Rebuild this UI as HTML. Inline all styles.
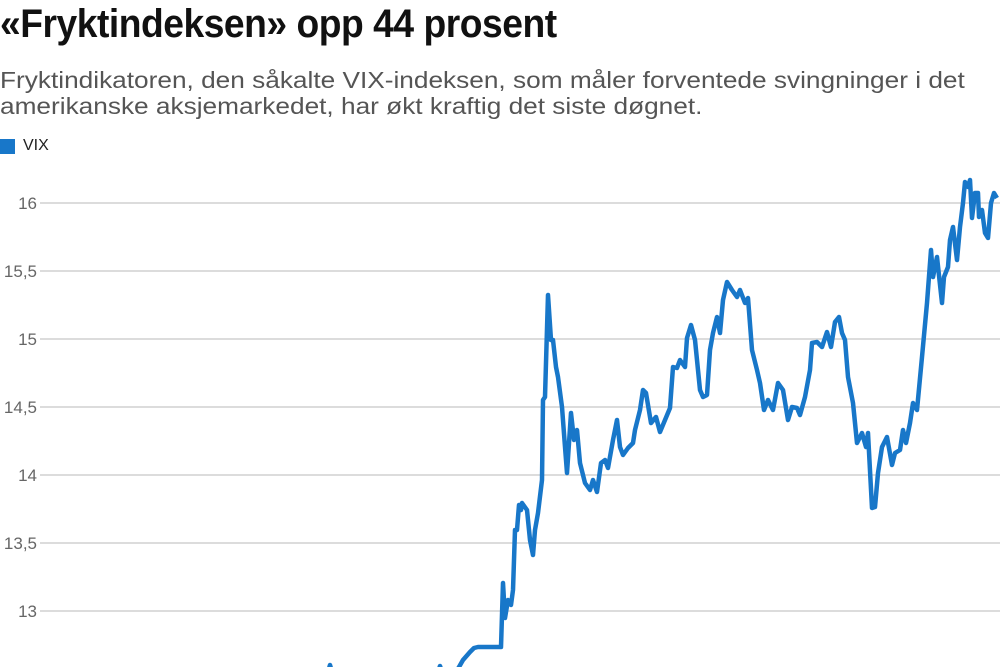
<!DOCTYPE html>
<html><head><meta charset="utf-8"><style>
body{margin:0;width:1000px;height:667px;overflow:hidden;background:#fff;font-family:"Liberation Sans",sans-serif;position:relative}
.t{position:absolute;left:0;top:2px;font-weight:bold;font-size:40px;color:#111;transform:scaleX(0.93);transform-origin:0 0;white-space:nowrap;letter-spacing:-0.5px}
.s{position:absolute;left:0;top:67px;font-size:23px;line-height:26px;color:#555;white-space:nowrap;transform:scaleX(1.14);transform-origin:0 0}
.lg{position:absolute;left:0;top:139px;width:15px;height:15px;background:#1877c9}
.lt{position:absolute;left:23px;top:137px;font-size:16px;color:#222}
</style></head><body>
<div class="t">«Fryktindeksen» opp 44 prosent</div>
<div class="s">Fryktindikatoren, den såkalte VIX-indeksen, som måler forventede svingninger i det<br>amerikanske aksjemarkedet, har økt kraftig det siste døgnet.</div>
<div class="lg"></div><div class="lt">VIX</div>
<svg width="1000" height="667" style="position:absolute;left:0;top:0">
<g stroke="#dcdcdc" stroke-width="2">
<line x1="40" x2="1000" y1="203" y2="203"/><line x1="40" x2="1000" y1="271" y2="271"/>
<line x1="40" x2="1000" y1="339" y2="339"/><line x1="40" x2="1000" y1="407" y2="407"/>
<line x1="40" x2="1000" y1="475" y2="475"/><line x1="40" x2="1000" y1="543" y2="543"/>
<line x1="40" x2="1000" y1="611" y2="611"/></g>
<g font-family="Liberation Sans" font-size="17" fill="#666" text-anchor="end">
<text x="37" y="209">16</text><text x="37" y="277">15,5</text><text x="37" y="345">15</text>
<text x="37" y="413">14,5</text><text x="37" y="481">14</text><text x="37" y="549">13,5</text><text x="37" y="617">13</text></g>
<polyline fill="none" stroke="#1877c9" stroke-width="4.5" stroke-linejoin="round" points="328,672 330,665 332,672 438,672 440,666 442,672 456,672 459,667 463,660 470,652 474,648 478,647 501,647 503,583 505,618 508,600 511,605 513,590 515,530 517,530 519,505 521,510 522,503 527,510 530,540 533,555 535,530 538,513 542,480 543,400 545,397 548,295 551,340 553,340 556,367 558,377 562,407 565,447 567,473 571,413 574,440 577,430 580,463 585,483 590,490 593,480 597,492 601,463 605,460 608,468 613,440 617,420 620,447 623,455 628,448 633,443 635,430 640,410 643,390 646,393 651,423 656,417 660,432 665,420 670,408 673,367 677,368 680,360 685,367 687,338 691,325 695,340 700,390 703,397 707,395 710,350 713,333 717,317 720,333 723,300 727,282 732,290 737,297 740,290 745,303 748,298 752,350 757,370 760,383 764,410 768,400 773,410 778,383 783,390 788,420 792,407 797,408 800,415 805,397 810,370 812,343 817,342 822,347 827,332 831,347 835,322 839,317 842,333 845,340 848,377 853,403 857,443 862,433 866,447 868,433 872,508 875,507 878,473 882,447 887,437 892,465 895,453 900,450 903,430 906,443 910,423 913,403 917,410 922,357 927,303 931,250 933,277 937,257 942,303 944,277 948,267 950,240 953,227 957,260 960,227 963,203 965,182 968,187 970,180 972,218 975,193 978,193 979,217 982,210 985,233 988,238 991,203 994,193 997,198"/>
</svg>
</body></html>
